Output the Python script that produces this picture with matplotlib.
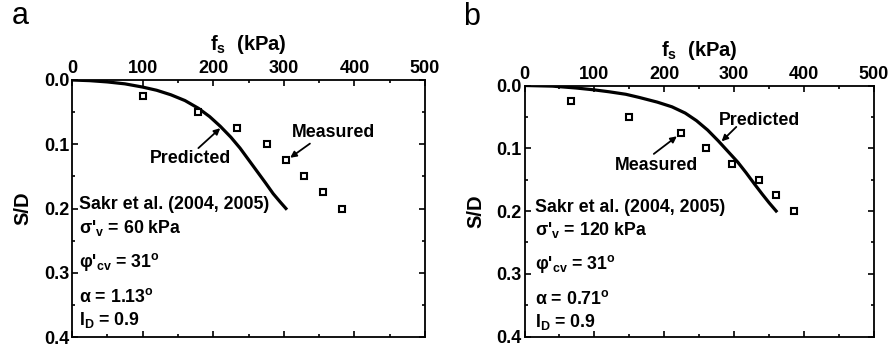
import matplotlib
matplotlib.use("Agg")
import matplotlib.pyplot as plt
from matplotlib.ticker import MultipleLocator

plt.rcParams['font.family'] = ['Liberation Sans', 'DejaVu Sans']
plt.rcParams['mathtext.fontset'] = 'custom'
plt.rcParams['mathtext.rm'] = 'Liberation Sans:bold'
plt.rcParams['mathtext.bf'] = 'Liberation Sans:bold'
plt.rcParams['mathtext.it'] = 'Liberation Sans:bold'

# ---- data: panel a ----
a_meas_fs = [100, 179, 234, 276, 303, 329, 356, 382]
a_meas_sd = [0.025, 0.05, 0.075, 0.10, 0.125, 0.15, 0.175, 0.20]
a_pred_fs = [0, 25, 50, 75, 100, 120, 140, 160, 179, 195, 210, 225, 238, 250, 262, 274, 285, 295, 303]
a_pred_sd = [0.0, 0.001, 0.003, 0.006, 0.011, 0.016, 0.023, 0.032, 0.044, 0.057, 0.072, 0.089,
             0.106, 0.124, 0.142, 0.160, 0.177, 0.190, 0.20]

# ---- data: panel b ----
b_meas_fs = [67, 150, 224, 260, 297, 335, 360, 386]
b_meas_sd = [0.025, 0.05, 0.075, 0.10, 0.125, 0.15, 0.175, 0.20]
b_pred_fs = [0, 40, 74, 100, 121, 145, 164, 190, 211, 230, 246, 262, 277, 291, 305, 317, 329, 340, 350, 360]
b_pred_sd = [0.0, 0.001, 0.004, 0.007, 0.010, 0.014, 0.019, 0.0265, 0.034, 0.044, 0.056, 0.071,
             0.088, 0.105, 0.122, 0.139, 0.157, 0.173, 0.187, 0.20]

x_ticks = [0, 100, 200, 300, 400, 500]
y_ticks = [0.0, 0.1, 0.2, 0.3, 0.4]

a_params = ["Sakr et al. (2004, 2005)", "σ'$_\\mathbf{v}$ = 60 kPa", "φ'$_\\mathbf{cv}$ = 31$^\\mathbf{o}$",
            "α = 1.13$^\\mathbf{o}$", "I$_\\mathbf{D}$ = 0.9"]
b_params = ["Sakr et al. (2004, 2005)", "σ'$_\\mathbf{v}$ = 120 kPa", "φ'$_\\mathbf{cv}$ = 31$^\\mathbf{o}$",
            "α = 0.71$^\\mathbf{o}$", "I$_\\mathbf{D}$ = 0.9"]

W, H = 888, 348
fig = plt.figure(figsize=(W / 100, H / 100), dpi=100)


def make_ax(rect, letter, letter_xy, meas_fs, meas_sd, pred_fs, pred_sd, params, params_x, params_y,
            pred_txt, pred_arrow, meas_txt, meas_arrow):
    ax = fig.add_axes(rect)
    ax.plot(pred_fs, pred_sd, color='black', lw=2.3, zorder=2, solid_joinstyle='round')
    ax.plot(meas_fs, meas_sd, ls='none', marker='s', ms=4.5, mfc='white', mec='black', mew=1.5, zorder=3)
    ax.set_xlim(0, 500)
    ax.set_ylim(0.4, 0.0)
    ax.set_xticks(x_ticks)
    ax.set_yticks(y_ticks)
    ax.xaxis.set_minor_locator(MultipleLocator(50))
    ax.yaxis.set_minor_locator(MultipleLocator(0.05))
    ax.tick_params(which='both', direction='in', top=True, bottom=True, left=True, right=True,
                   labeltop=True, labelbottom=False, labelleft=True, labelright=False, width=1.2)
    ax.tick_params(which='major', length=4, labelsize=13, pad=2)
    ax.tick_params(which='minor', length=2.5)
    ax.set_xticklabels([str(v) for v in x_ticks], fontweight='bold')
    ax.set_yticklabels(['%.1f' % v for v in y_ticks], fontweight='bold')
    for s in ax.spines.values():
        s.set_linewidth(1.3)
    ax.xaxis.set_label_position('top')
    ax.set_xlabel('f$_\\mathbf{s}$  (kPa)', fontsize=14.5, fontweight='bold', labelpad=7)
    ax.set_ylabel('S/D', fontsize=14.5, fontweight='bold', labelpad=8)
    for t, yv in zip(params, params_y):
        ax.text(params_x, yv, t, fontsize=12.8, fontweight='bold', va='center', ha='left')
    ax.annotate('', xy=pred_arrow[1], xytext=pred_arrow[0],
                arrowprops=dict(arrowstyle='-|>', lw=1.3, color='black', mutation_scale=9, shrinkA=0, shrinkB=0))
    ax.text(pred_txt[0], pred_txt[1], 'Predicted', fontsize=12.8, fontweight='bold', ha='center', va='center')
    ax.annotate('', xy=meas_arrow[1], xytext=meas_arrow[0],
                arrowprops=dict(arrowstyle='-|>', lw=1.3, color='black', mutation_scale=9, shrinkA=0, shrinkB=0))
    ax.text(meas_txt[0], meas_txt[1], 'Measured', fontsize=12.8, fontweight='bold', ha='center', va='center')
    fig.text(letter_xy[0] / W, 1 - letter_xy[1] / H, letter, fontsize=22, ha='center', va='center')
    return ax


make_ax([72 / W, 1 - 337 / H, 353 / W, 257 / H], 'a', (20, 16),
        a_meas_fs, a_meas_sd, a_pred_fs, a_pred_sd, a_params, 10.5,
        [0.193, 0.230, 0.283, 0.337, 0.374],
        (168, 0.122), ((179, 0.106), (210, 0.075)),
        (371, 0.082), ((337, 0.099), (309, 0.121)))

make_ax([524.5 / W, 1 - 336.5 / H, 349.5 / W, 251 / H], 'b', (472, 17),
        b_meas_fs, b_meas_sd, b_pred_fs, b_pred_sd, b_params, 14.5,
        [0.195, 0.231, 0.284, 0.340, 0.377],
        (336, 0.055), ((303, 0.066), (282, 0.089)),
        (188.5, 0.127), ((185, 0.109), (218, 0.081)))

fig.savefig('out.png', dpi=100)
